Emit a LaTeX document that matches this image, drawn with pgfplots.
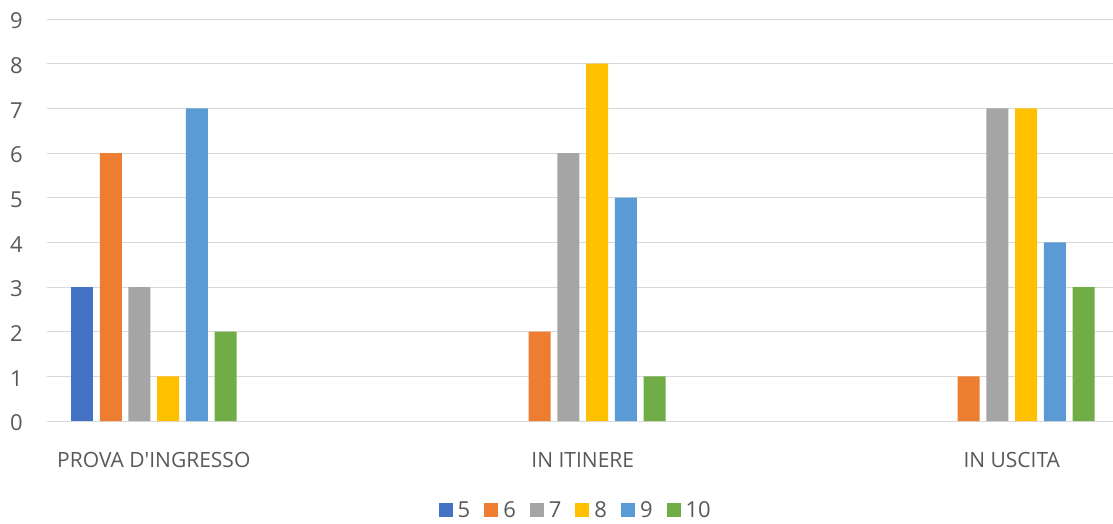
\documentclass[border=0pt]{standalone}
\usepackage{fontspec}
\setmainfont{Open Sans}[Ligatures=TeXOff]
\usepackage{pgfplots}
\pgfplotsset{compat=1.18}
\definecolor{c5}{HTML}{4472C4}
\definecolor{c6}{HTML}{ED7D31}
\definecolor{c7}{HTML}{A5A5A5}
\definecolor{c8}{HTML}{FFC000}
\definecolor{c9}{HTML}{5B9BD5}
\definecolor{c10}{HTML}{70AD47}
\definecolor{tickc}{HTML}{595959}
\definecolor{gridc}{HTML}{D9D9D9}
\pgfplotsset{mylegend/.style={legend image code/.code={\fill[##1] (0pt,-7pt) rectangle (14pt,7pt);}}}
\begin{document}
\begin{tikzpicture}
\path[use as bounding box] (-47pt,-102pt) rectangle (1066pt,421pt);
\begin{axis}[
  at={(0pt,0pt)}, anchor=south west,
  scale only axis, width=1066pt, height=402pt,
  xmin=-0.249, xmax=2.236, ymin=0, ymax=9,
  ybar=6.7pt, bar width=22pt,
  axis line style={draw=none},
  major tick length=0pt,
  ytick={0,...,9},
  ymajorgrids, grid style={gridc, line width=1pt},
  xtick={0,1,2},
  xticklabels={PROVA D'INGRESSO, IN ITINERE, IN USCITA},
  tick label style={text=tickc},
  /pgf/number format/assume math mode=true,
  yticklabel style={font=\fontsize{22}{26}\selectfont, anchor=east, inner sep=0pt, xshift=-24pt, yshift=-2pt},
  xticklabel style={font=\fontsize{21}{25}\selectfont, anchor=north, inner sep=0pt, yshift=-31pt},
  legend style={at={(0.496,-0.2214)}, anchor=center, draw=none,
    font=\fontsize{22}{26}\selectfont, text=tickc,
    /tikz/every odd column/.append style={column sep=3pt},
    /tikz/every even column/.append style={column sep=12pt}},
  legend columns=-1,
]
\addplot[fill=c5, draw=none, mylegend] coordinates {(0,3)};
\addplot[fill=c6, draw=none, mylegend] coordinates {(0,6) (1,2) (2,1)};
\addplot[fill=c7, draw=none, mylegend] coordinates {(0,3) (1,6) (2,7)};
\addplot[fill=c8, draw=none, mylegend] coordinates {(0,1) (1,8) (2,7)};
\addplot[fill=c9, draw=none, mylegend] coordinates {(0,7) (1,5) (2,4)};
\addplot[fill=c10, draw=none, mylegend] coordinates {(0,2) (1,1) (2,3)};
\legend{5,6,7,8,9,10}
\end{axis}
\end{tikzpicture}
\end{document}
